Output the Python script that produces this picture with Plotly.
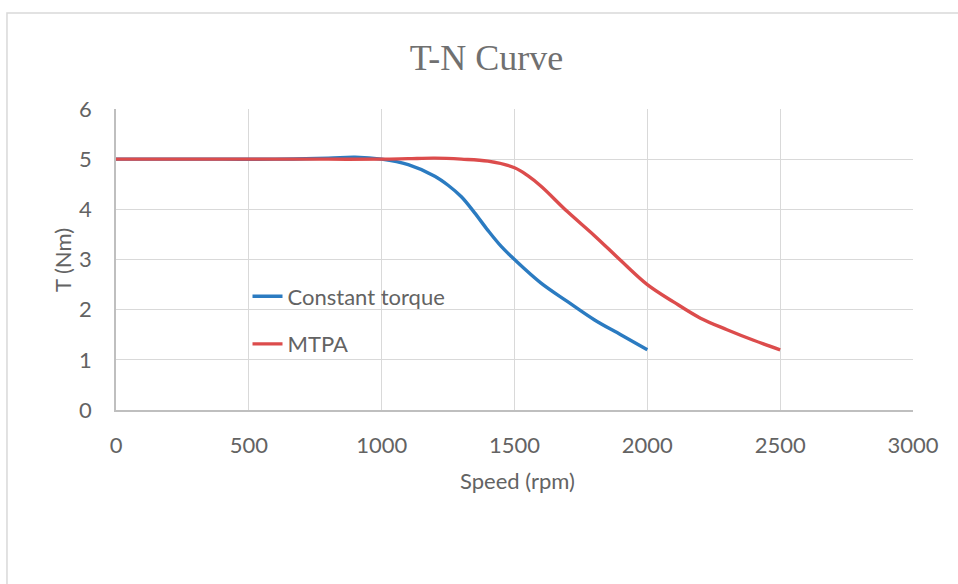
import plotly.graph_objects as go

# Speed (rpm) / torque (Nm) readings for the two control strategies
speed_ct = [0, 200, 400, 600, 800, 900, 1000, 1100, 1200, 1250, 1300, 1350, 1400,
            1450, 1500, 1600, 1700, 1800, 1900, 2000]
torque_ct = [5.0, 5.0, 5.0, 5.0, 5.02, 5.04, 5.0, 4.89, 4.66, 4.48, 4.25, 3.93, 3.58,
             3.26, 3.0, 2.53, 2.16, 1.8, 1.5, 1.2]

speed_mtpa = [0, 200, 400, 600, 800, 1000, 1100, 1200, 1300, 1400, 1500, 1550, 1600,
              1700, 1800, 1900, 2000, 2100, 2200, 2300, 2400, 2500]
torque_mtpa = [5.0, 5.0, 5.0, 5.0, 5.0, 5.0, 5.01, 5.02, 5.0, 4.96, 4.83, 4.67, 4.46,
               3.95, 3.48, 2.98, 2.5, 2.15, 1.83, 1.6, 1.39, 1.2]

x_ticks = [0, 500, 1000, 1500, 2000, 2500, 3000]
y_ticks = [0, 1, 2, 3, 4, 5, 6]

BLUE = "#2B7BC1"
RED = "#DC4C4C"
TEXT = "#636363"
TITLE = "#707070"
GRID = "#D9D9D9"
AXIS = "#BFBFBF"
SANS = "Lato, 'Noto Sans', sans-serif"
FS = 22

fig = go.Figure()
fig.add_trace(go.Scatter(
    x=speed_ct, y=torque_ct, mode="lines", name="Constant torque",
    legendgroup="ct",
    line=dict(color=BLUE, width=3.4, shape="spline", smoothing=1.0),
))
fig.add_trace(go.Scatter(
    x=speed_mtpa, y=torque_mtpa, mode="lines", name="MTPA",
    legendgroup="mtpa",
    line=dict(color=RED, width=3.4, shape="spline", smoothing=1.0),
))

# outer chart frame
fig.add_shape(type="rect", xref="paper", yref="paper",
              x0=-0.1368, x1=1.075, y0=-0.62, y1=1.319,
              line=dict(color=GRID, width=1.5), fillcolor="rgba(0,0,0,0)",
              layer="below")

fig.update_layout(
    width=958, height=584,
    margin=dict(l=116, r=45, t=109, b=174),
    paper_bgcolor="white", plot_bgcolor="white",
    title=dict(text="T-N Curve", x=486.5 / 958, xref="container", xanchor="center",
               y=1 - 57 / 584, yref="container", yanchor="middle",
               font=dict(family="'Liberation Serif', 'Times New Roman', serif",
                         size=36, color=TITLE)),
    font=dict(family=SANS, color=TEXT, size=FS),
    showlegend=True,
    legend=dict(x=0.165, y=0.447, xanchor="left", yanchor="top",
                bgcolor="rgba(0,0,0,0)", tracegroupgap=16,
                font=dict(family=SANS, size=FS, color=TEXT)),
    xaxis=dict(range=[0, 3000], tickvals=x_ticks, ticktext=[str(v) for v in x_ticks],
               showgrid=True, gridcolor=GRID, gridwidth=1.3,
               showline=True, linecolor=AXIS, linewidth=1.5,
               zeroline=False, ticks="outside", ticklen=15,
               tickcolor="rgba(0,0,0,0)",
               tickfont=dict(family=SANS, size=FS, color=TEXT)),
    yaxis=dict(range=[0, 6], tickvals=y_ticks, ticktext=[str(v) for v in y_ticks],
               showgrid=True, gridcolor=GRID, gridwidth=1.3,
               showline=True, linecolor=AXIS, linewidth=1.5,
               zeroline=False, ticks="outside", ticklen=18,
               tickcolor="rgba(0,0,0,0)",
               tickfont=dict(family=SANS, size=FS, color=TEXT)),
    annotations=[
        dict(text="Speed (rpm)", xref="paper", yref="paper",
             x=(517 - 116) / 797, y=(410 - 480) / 301,
             xanchor="center", yanchor="middle", showarrow=False,
             font=dict(family=SANS, size=FS, color=TEXT)),
        dict(text="T (Nm)", xref="paper", yref="paper",
             x=(62 - 116) / 797, y=(410 - 260) / 301, textangle=-90,
             xanchor="center", yanchor="middle", showarrow=False,
             font=dict(family=SANS, size=FS, color=TEXT)),
    ],
)

fig.write_html("out.html")
